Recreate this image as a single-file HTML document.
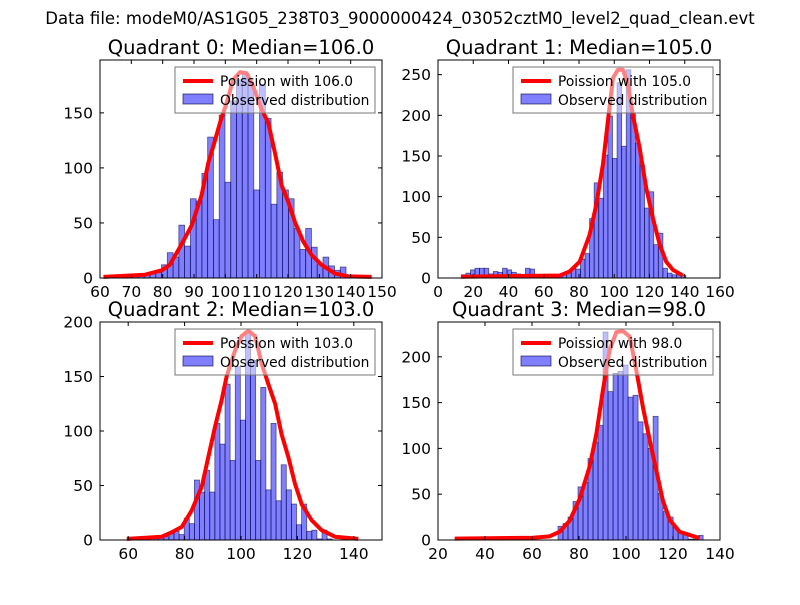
<!DOCTYPE html>
<html><head><meta charset="utf-8">
<style>
body{margin:0;background:#fff;}
svg text{font-family:"DejaVu Sans","Liberation Sans",sans-serif;}
</style></head>
<body>
<svg id="fig" width="800" height="600" xmlns="http://www.w3.org/2000/svg">
<rect width="800" height="600" fill="#fff"/>
<text x="400" y="24" text-anchor="middle" font-size="16.5">Data file: modeM0/AS1G05_238T03_9000000424_03052cztM0_level2_quad_clean.evt</text>
</svg>
<script>
// Panel 0 data
const q0Counts=[3,2,3,3,4,5,12,23,19,48,29,72,70,95,128,53,148,87,161,180,186,178,80,176,145,67,96,80,72,45,26,45,28,12,19,11,7,10];
const q0CurveX=[61.1,74.4,79.7,82.3,86.1,89.3,92.4,94.6,96.2,98.3,100.4,102.5,104.7,106.8,108.9,111.6,113.7,115.8,118.0,120.1,122.2,124.9,127.5,130.7,135.0,139.3,146.7];
const q0CurveY=[1,3,7,12,31,48,75,105,120,141,159,180,187,186,174,153,141,114,84,69,51,33,21,12,4,1.5,1];
const q0XTicks=[60,70,80,90,100,110,120,130,140,150];
const q0YTicks=[0,50,100,150];
// Panel 1 data
const q1Counts=[4,6,10,12,12,12,5,8,7,12,10,7,5,3,12,11,3,3,3,4,3,4,5,8,12,11,23,30,73,117,98,151,199,147,240,162,256,203,166,139,86,106,41,55,12,6,4,4,3];
const q1CurveX=[13.2,69.0,74.7,80.4,86.0,89.8,93.6,96.4,99.3,102.1,104.9,107.8,110.6,114.4,118.2,122.0,125.8,129.5,133.3,139.0];
const q1CurveY=[1.6,3,8,20,53,90,140,193,246,256,256,238,200,160,110,73,41,20,10,3];
const q1XTicks=[0,20,40,60,80,100,120,140,160];
const q1YTicks=[0,50,100,150,200,250];
// Panel 2 data
const q2Counts=[3,3,3,6,8,5,20,15,55,44,64,44,107,88,143,73,159,110,191,165,73,140,46,107,36,69,46,33,14,33,8,9,1,9,1];
const q2CurveX=[59.5,71.9,75.4,79.0,82.5,86.1,88.4,90.8,93.1,94.9,97.9,100.2,102.6,105.0,107.3,109.7,112.1,114.4,116.8,119.1,121.5,125.1,128.6,133.3,141.6];
const q2CurveY=[1,3,7,12,27,49,76,104,128,150,174,187,192,187,162,143,125,97,76,52,33,18,9,3,1];
const q2XTicks=[60,80,100,120,140];
const q2YTicks=[0,50,100,150,200];
// Panel 3 data
const q3Counts=[15,18,25,42,58,63,89,107,125,227,162,182,184,191,156,158,129,116,100,135,51,31,25,14,9,8,1,1,5];
const q3CurveX=[27.1,60.4,67.5,71.8,76.0,80.3,84.5,87.4,90.2,93.0,95.9,98.7,101.6,104.4,107.2,110.1,112.9,115.7,118.6,122.8,131.3];
const q3CurveY=[1.5,2.5,4,9,21,45,80,116,164,207,227,228,222,185,145,109,76,43,22,9,2];
const q3XTicks=[20,40,60,80,100,120,140];
const q3YTicks=[0,50,100,150,200];

const NS="http://www.w3.org/2000/svg";
const fig=document.getElementById('fig');
function mk(tag,attrs,parent){const e=document.createElementNS(NS,tag);for(const k in attrs)e.setAttribute(k,attrs[k]);(parent||fig).appendChild(e);return e;}

const panels=[
 {id:0,L:100,T:60,W:282,H:218,xmin:60,xmax:150,ymax:198,binStart:68.6,binW:1.84,counts:q0Counts,cx:q0CurveX,cy:q0CurveY,xt:q0XTicks,yt:q0YTicks,title:"Quadrant 0: Median=106.0",leg:"Poission with 106.0"},
 {id:1,L:438,T:60,W:282,H:218,xmin:0,xmax:160,ymax:268,binStart:13.2,binW:2.6,counts:q1Counts,cx:q1CurveX,cy:q1CurveY,xt:q1XTicks,yt:q1YTicks,title:"Quadrant 1: Median=105.0",leg:"Poission with 105.0"},
 {id:2,L:100,T:322,W:282,H:218,xmin:50,xmax:150,ymax:200,binStart:69.0,binW:1.81,counts:q2Counts,cx:q2CurveX,cy:q2CurveY,xt:q2XTicks,yt:q2YTicks,title:"Quadrant 2: Median=103.0",leg:"Poission with 103.0"},
 {id:3,L:438,T:322,W:282,H:218,xmin:20,xmax:140,ymax:238,binStart:71.06,binW:2.13,counts:q3Counts,cx:q3CurveX,cy:q3CurveY,xt:q3XTicks,yt:q3YTicks,title:"Quadrant 3: Median=98.0",leg:"Poission with 98.0"}
];

panels.forEach(p=>{
 const xs=v=>p.L+(v-p.xmin)/(p.xmax-p.xmin)*p.W;
 const ys=v=>p.T+p.H-v/p.ymax*p.H;
 const g=mk('g',{});
 
 
 const t=mk('text',{x:p.L+p.W/2,y:p.T-6,'text-anchor':'middle','font-size':'19.5'},g);
 t.textContent=p.title;
 
 
 p.counts.forEach((c,i)=>{
  const x0=xs(p.binStart+i*p.binW), x1=xs(p.binStart+(i+1)*p.binW);
  const r=mk('rect',{x:x0,y:ys(c),width:x1-x0,height:ys(0)-ys(c),fill:'rgba(0,0,255,0.5)',stroke:'rgba(0,0,60,0.6)','stroke-width':'0.8'},g);
  
  
 });
 const pts=p.cx.map((v,i)=>xs(v)+','+ys(p.cy[i])).join(' ');
 const pl=mk('polyline',{points:pts,fill:'none',stroke:'#f00','stroke-width':'4','stroke-linejoin':'round'},g);
 
 
 const fr=mk('rect',{x:p.L,y:p.T,width:p.W,height:p.H,fill:'none',stroke:'#000','stroke-width':'1'},g);
 
 
 p.xt.forEach(v=>{
  const x=xs(v);
  mk('line',{x1:x,y1:p.T+p.H,x2:x,y2:p.T+p.H-4,stroke:'#000'},g);
  mk('line',{x1:x,y1:p.T,x2:x,y2:p.T+4,stroke:'#000'},g);
  const tl=mk('text',{x:x,y:p.T+p.H+19,'text-anchor':'middle','font-size':'15.5'},g);
  tl.textContent=v;
  
  
 });
 p.yt.forEach(v=>{
  const y=ys(v);
  mk('line',{x1:p.L,y1:y,x2:p.L+4,y2:y,stroke:'#000'},g);
  mk('line',{x1:p.L+p.W,y1:y,x2:p.L+p.W-4,y2:y,stroke:'#000'},g);
  const tl=mk('text',{x:p.L-7,y:y+5.5,'text-anchor':'end','font-size':'15.5'},g);
  tl.textContent=v;
  
  
 });
 const lx=p.L+75, ly=p.T+7;
 const lg=mk('g',{},g);
 
 
 mk('rect',{x:lx,y:ly,width:200,height:46,fill:'rgba(255,255,255,0.5)',stroke:'#777','stroke-width':'1'},lg);
 mk('line',{x1:lx+8,y1:ly+14,x2:lx+38,y2:ly+14,stroke:'#f00','stroke-width':'4'},lg);
 const t1=mk('text',{x:lx+45,y:ly+19,'font-size':'13.8'},lg);
 t1.textContent=p.leg;
 
 
 mk('rect',{x:lx+8,y:ly+27,width:30,height:10,fill:'rgba(0,0,255,0.5)',stroke:'rgba(0,0,60,0.6)'},lg);
 const t2=mk('text',{x:lx+45,y:ly+38,'font-size':'13.8'},lg);
 t2.textContent='Observed distribution';
 
 
});
</script>
</body></html>
